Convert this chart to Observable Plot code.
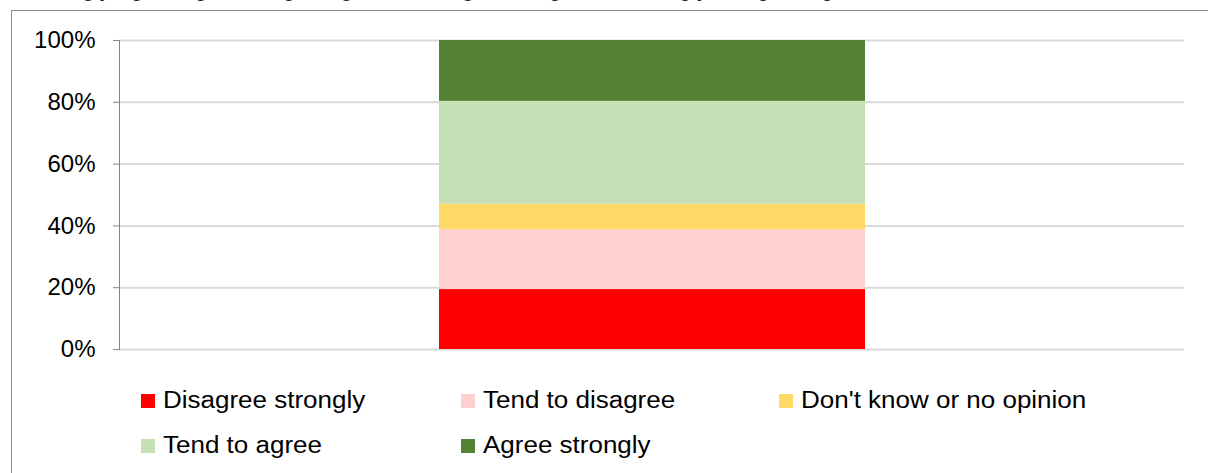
<!DOCTYPE html>
<html>
<head>
<meta charset="utf-8">
<script src="https://cdn.jsdelivr.net/npm/d3@7"></script>
<script src="https://cdn.jsdelivr.net/npm/@observablehq/plot@0.6"></script>
<style>
  body { margin: 0; background: #fff; font-family: "Liberation Sans", Arial, sans-serif; }
  #wrap { position: relative; width: 1208px; height: 473px; overflow: hidden; background: #fff; }
  #box { position: absolute; left: 11px; top: 10px; width: 1400px; height: 700px; border: 1px solid #8c8c8c; box-sizing: border-box; }
  #title { position: absolute; left: 27px; top: -23px; text-align: left; font-size: 23px; line-height: 23px; white-space: nowrap; color: #1a1a1a; }
  #chart { position: absolute; left: 0; top: 0; }
  .item { position: absolute; height: 23px; line-height: 23px; font-size: 23px; white-space: nowrap; color: #000; }
  .sw { position: absolute; left: 0; top: 5.5px; width: 14px; height: 14px; }
  .lbl { position: absolute; left: 22px; top: 0; transform: scaleX(1.13); transform-origin: left center; }
</style>
</head>
<body>
<div id="wrap">
  <div id="box"></div>
  <div id="title">Strongly agreeing, tending to agree, tending to disagree or strongly disagreeing</div>
  <div id="chart"></div>
  <div id="legend"></div>
</div>
<script>
// Response categories, bottom to top, with their fills
const categories = ["Disagree strongly", "Tend to disagree", "Don't know or no opinion", "Tend to agree", "Agree strongly"];
const colors = ["#ff0000", "#ffd0d0", "#ffd966", "#c5e0b4", "#548235"];
// Share of respondents in each category (%)
const shares = [19.4, 19.4, 8.2, 33.3, 19.7];
const groups = ["All respondents"];
const yTicks = [0, 20, 40, 60, 80, 100];

const rows = categories.map((c, i) => ({group: groups[0], category: c, value: shares[i]}));

const chart = Plot.plot({
  width: 1208,
  height: 360,
  marginLeft: 119,
  marginRight: 24,
  marginTop: 40,
  marginBottom: 11,
  style: {fontFamily: "'Liberation Sans', Arial, sans-serif", fontSize: "24px", color: "#000", background: "transparent", overflow: "visible"},
  x: {domain: groups, paddingInner: 0, paddingOuter: 0.75, axis: null},
  y: {domain: [0, 100], label: null, axis: null},
  color: {domain: categories, range: colors},
  marks: [
    Plot.ruleY(yTicks, {stroke: "#d9d9d9", strokeWidth: 2}),
    Plot.barY(rows, {x: "group", y: "value", fill: "category", order: categories}),
    Plot.frame({anchor: "left", stroke: "#868686"}),
    Plot.axisY({ticks: yTicks, tickSize: 6, tickPadding: 18, stroke: "#868686", fill: "#000", tickFormat: d => `${d}%`, label: null})
  ]
});
document.getElementById("chart").append(chart);

// Legend laid out in three columns, row by row
const legend = document.getElementById("legend");
const colX = [141, 461, 779];
const rowBaseline = [408, 453];
categories.forEach((c, i) => {
  const col = i % 3, row = Math.floor(i / 3);
  const item = document.createElement("div");
  item.className = "item";
  item.style.left = colX[col] + "px";
  item.style.top = (rowBaseline[row] - 19.5) + "px";
  const sw = document.createElement("div");
  sw.className = "sw";
  sw.style.background = colors[i];
  const lbl = document.createElement("span");
  lbl.className = "lbl";
  lbl.textContent = c;
  item.append(sw, lbl);
  legend.append(item);
});
</script>
</body>
</html>
